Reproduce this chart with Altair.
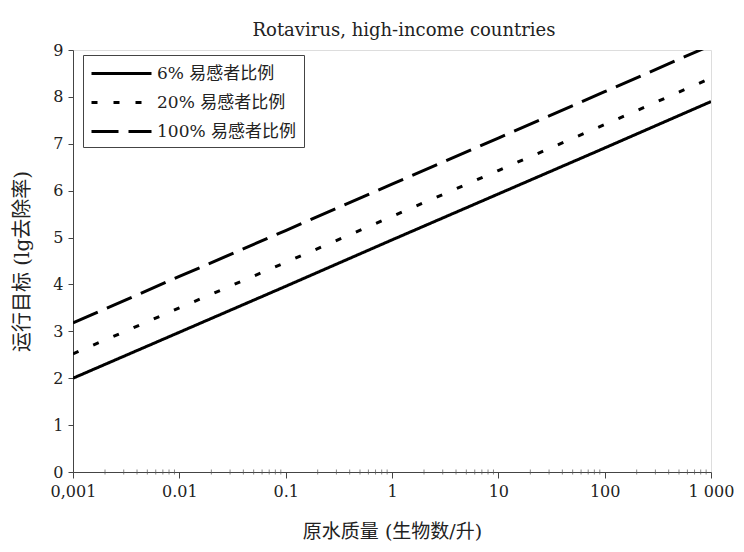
import altair as alt
import pandas as pd

# ---- data ----
x_vals = [0.001, 0.01, 0.1, 1, 10, 100, 1000]
x_tick_labels = ["0,001", "0.01", "0.1", "1", "10", "100", "1 000"]
series_names = ["6% 易感者比例", "20% 易感者比例", "100% 易感者比例"]
s6 = [2.0, 2.98, 3.96, 4.95, 5.93, 6.91, 7.9]
s20 = [2.52, 3.5, 4.47, 5.45, 6.43, 7.41, 8.4]
s100 = [3.18, 4.17, 5.15, 6.14, 7.12, 8.11, 9.1]
y_ticks = [0, 1, 2, 3, 4, 5, 6, 7, 8, 9]
minor_x = [m * 10.0 ** k for k in range(-3, 3) for m in range(2, 10)]

rows = []
for name, vals in zip(series_names, [s6, s20, s100]):
    for xv, yv in zip(x_vals, vals):
        rows.append({"x": xv, "y": yv, "series": name})
df = pd.DataFrame(rows)
df_minor = pd.DataFrame({"x": minor_x, "y": [0] * len(minor_x)})

SERIF = "DejaVu Serif, Noto Sans CJK SC"
TXT = "#222222"

label_expr = " : ".join(
    f"datum.value < {v * 1.5} ? '{lab}'" for v, lab in zip(x_vals, x_tick_labels)
) + " : ''"

x_scale = alt.Scale(type="log", domain=[0.001, 1000], nice=False)
y_scale = alt.Scale(domain=[0, 9], nice=False)

lines = alt.Chart(df).mark_line(strokeWidth=3, clip=True, color="black").encode(
    x=alt.X("x:Q", scale=x_scale,
            axis=alt.Axis(values=x_vals, labelExpr=label_expr, title="原水质量 (生物数/升)",
                          grid=False, tickSize=6, labelPadding=5, titlePadding=23,
                          labelFont=SERIF, labelFontSize=16, labelColor=TXT,
                          titleFont=SERIF, titleFontSize=19, titleFontWeight="normal",
                          titleColor=TXT, domainColor="#444", tickColor="#444",
                          labelFlush=False)),
    y=alt.Y("y:Q", scale=y_scale,
            axis=alt.Axis(values=y_ticks, title="运行目标 (lg去除率)", grid=False,
                          tickSize=5, labelPadding=5, titlePadding=20,
                          labelFont=SERIF, labelFontSize=16, labelColor=TXT,
                          titleFont=SERIF, titleFontSize=20, titleFontWeight="normal",
                          titleColor=TXT, domainColor="#444", tickColor="#444")),
    strokeDash=alt.StrokeDash(
        "series:N", sort=series_names,
        scale=alt.Scale(domain=series_names, range=[[1, 0], [6, 16], [27, 10]]),
        legend=alt.Legend(title=None, orient="none", legendX=10, legendY=5,
                          symbolType="M-1,0H5", symbolSize=400, symbolStrokeWidth=3,
                          symbolStrokeColor="black",
                          labelFont=SERIF, labelFontSize=17, labelColor=TXT,
                          strokeColor="#444", padding=7, rowPadding=9,
                          labelOffset=44)),
)

minor_ticks = alt.Chart(df_minor).mark_tick(size=5, thickness=1, color="#555", orient="vertical").encode(
    x=alt.X("x:Q", scale=x_scale),
    y=alt.Y("y:Q", scale=y_scale),
)

chart = alt.layer(minor_ticks, lines).properties(
    width=638, height=422,
    title=alt.Title("Rotavirus, high-income countries", font=SERIF, fontSize=18,
                    fontWeight="normal", color=TXT, offset=2, dx=12),
    autosize=alt.AutoSizeParams(type="none"),
    padding={"left": 65, "top": 42, "right": 25, "bottom": 72},
).configure_view(stroke="#444", strokeWidth=1.5).configure(background="white")

chart.save("out.html", embed_options={"renderer": "svg", "actions": False})
